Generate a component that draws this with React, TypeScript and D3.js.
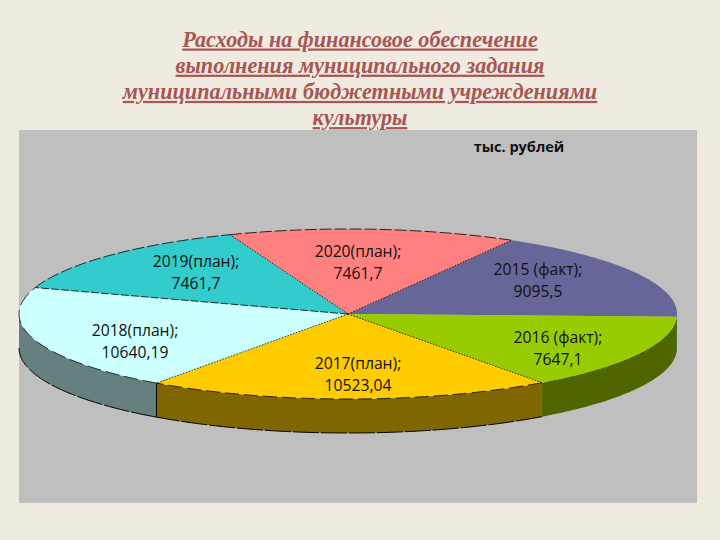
import React from 'react';
import * as d3 from 'd3';

const years = ['2015 (факт);', '2016 (факт);', '2017(план);', '2018(план);', '2019(план);', '2020(план);'];
const values = [9095.5, 7647.1, 10523.04, 10640.19, 7461.7, 7461.7];
const valueLabels = ['9095,5', '7647,1', '10523,04', '10640,19', '7461,7', '7461,7'];
const titleLines = [
  'Расходы на финансовое обеспечение',
  'выполнения муниципального задания',
  'муниципальными бюджетными учреждениями',
  'культуры',
];

const topColors = ['#666699', '#99cc00', '#ffcc00', '#ccffff', '#33cccc', '#ff8080'];
const sideColors = ['#33334d', '#4f6600', '#806600', '#668080', '#1a6666', '#804040'];
// label centres, picked by eye from the reference
const labelX = [538, 558, 358, 135, 196, 358];
const labelY = [270, 338, 364, 331, 262, 252];
const edgeDash = ['none', 'none', '14 5', '14 5', '12 3', '12 3'];
const bottomDash = ['none', 'none', '26 2', '26 2', 'none', 'none'];
const radiusDash = ['1.5 1.5', '', '1.5 1.5', '1.5 1.5', '8 2', '1.5 1.5'];

const cx = 348;
const cy = 314;
const rx = 329;
const ry = 85;
const depth = 34;
const startAngle = (29.8 * Math.PI) / 180;

const App: React.FC = () => {
  const pie = d3
    .pie<number>()
    .sort(null)
    .startAngle(startAngle)
    .endAngle(startAngle + 2 * Math.PI);
  const slices = pie(values);

  const px = (a: number) => cx + rx * Math.sin(a);
  const py = (a: number) => cy - ry * Math.cos(a);

  // the outer wall only shows on the front half of the ellipse
  const wallAngles = (s: d3.PieArcDatum<number>) => {
    const a0 = Math.max(s.startAngle, Math.PI / 2);
    const a1 = Math.min(s.endAngle, (3 * Math.PI) / 2);
    if (a1 <= a0) return [];
    return d3.range(0, 61).map(i => a0 + ((a1 - a0) * i) / 60);
  };
  const wall = d3
    .area<number>()
    .x(a => px(a))
    .y0(a => py(a))
    .y1(a => py(a) + depth);
  const rim = d3
    .line<number>()
    .x(a => px(a))
    .y(a => py(a));
  const arcAngles = (s: d3.PieArcDatum<number>) =>
    d3.range(0, 61).map(i => s.startAngle + ((s.endAngle - s.startAngle) * i) / 60);
  const slicePath = (s: d3.PieArcDatum<number>) =>
    `M${cx},${cy}L` + rim(arcAngles(s))!.slice(1) + 'Z';

  return (
    <svg
      width={720}
      height={540}
      style={{ position: 'absolute', left: 0, top: 0 }}
    >
      <rect width={720} height={540} fill="#efebe0" />
      <g
        fontFamily="'Liberation Serif'"
        fontWeight="bold"
        fontStyle="italic"
        fontSize={22.2}
        fill="#a85555"
        textAnchor="middle"
        textDecoration="underline"
      >
        {titleLines.map((t, i) => (
          <text key={t} x={360} y={46.5 + i * 26.2}>
            {t}
          </text>
        ))}
      </g>
      <rect x={19} y={130} width={678} height={373} fill="#bfbfbf" />

      {slices.map((s, i) => {
        const ang = wallAngles(s);
        if (!ang.length) return null;
        return (
          <g key={years[i]}>
            <path d={wall(ang)!} fill={sideColors[i]} />
            {bottomDash[i] !== 'none' && (
              <path
                d={rim(ang)!}
                transform={`translate(0,${depth})`}
                fill="none"
                stroke="#000"
                strokeDasharray={bottomDash[i]}
              />
            )}
            {/* only the 2017/2018 seam has a visible line */}
            {i === 3 && (
              <line
                x1={px(s.startAngle)}
                x2={px(s.startAngle)}
                y1={py(s.startAngle)}
                y2={py(s.startAngle) + depth}
                stroke="#000"
              />
            )}
          </g>
        );
      })}

      {slices.map((s, i) => (
        <path key={years[i]} d={slicePath(s)} fill={topColors[i]} />
      ))}

      {slices.map((s, i) => (
        <g key={years[i]} fill="none" stroke="#000" strokeWidth={0.8}>
          {edgeDash[i] !== 'none' && (
            <path d={rim(arcAngles(s))!} strokeDasharray={edgeDash[i]} />
          )}
          {radiusDash[i] && (
            <line
              x1={cx}
              y1={cy}
              x2={px(s.startAngle)}
              y2={py(s.startAngle)}
              strokeDasharray={radiusDash[i]}
            />
          )}
        </g>
      ))}

      <g fontFamily="'Open Sans'" fontSize={15.7} fill="#111" textAnchor="middle">
        {slices.map((s, i) => (
          <g key={years[i]}>
            <text x={labelX[i]} y={labelY[i] + 5}>
              {years[i]}
            </text>
            <text x={labelX[i]} y={labelY[i] + 27}>
              {valueLabels[i]}
            </text>
          </g>
        ))}
      </g>
      <text x={519} y={152} fontFamily="'Open Sans'" fontWeight="bold" fontSize={14.5} fill="#111" textAnchor="middle">
        тыс. рублей
      </text>
    </svg>
  );
};

export default App;
